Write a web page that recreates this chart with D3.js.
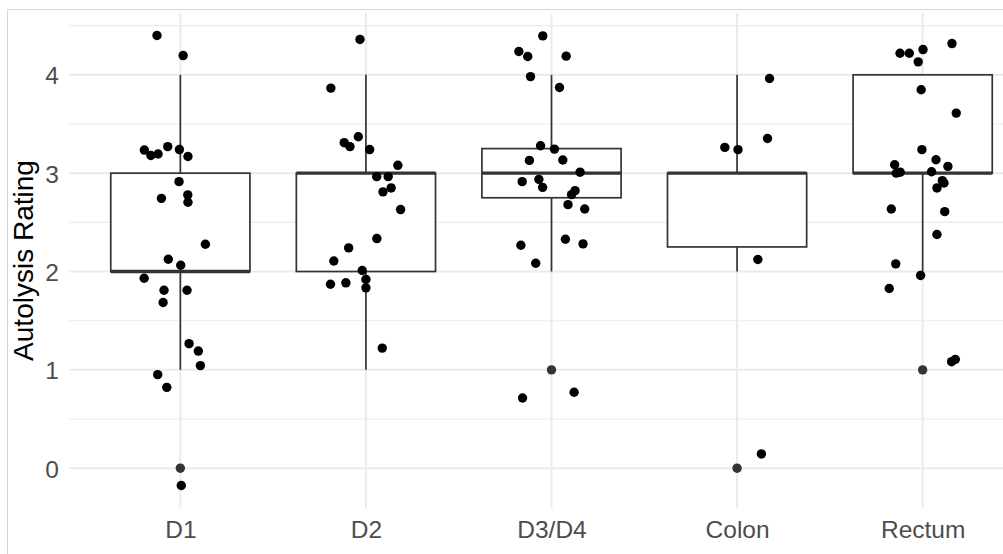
<!DOCTYPE html>
<html><head><meta charset="utf-8">
<script src="https://cdn.jsdelivr.net/npm/d3@7"></script>
<style>body{margin:0;background:#fff;overflow:hidden}svg{display:block}text{font-family:"Liberation Sans",Arial,sans-serif}</style>
</head><body>
<svg id="chart" width="1003" height="554"></svg>
<script>
// ---- data ----
const categories = ["D1", "D2", "D3/D4", "Colon", "Rectum"];
const yTicks = [0, 1, 2, 3, 4];
const boxQ1 = [2, 2, 2.75, 2.25, 3];
const boxMedian = [2, 3, 3, 3, 3];
const boxQ3 = [3, 3, 3.25, 3, 4];
const whiskerLow = [1, 1, 2, 2, 2];
const whiskerHigh = [4, 4, 4, 4, 4];
const outliers = [[0], [], [1], [0], [1]];
// jittered observations: [horizontal jitter (category units), rating]
const ptsD1 = [[-0.126,4.40],[0.015,4.196],[-0.194,3.235],[-0.159,3.18],[-0.120,3.195],[-0.068,3.27],[-0.005,3.24],[0.041,3.17],[-0.007,2.914],[-0.102,2.744],[0.040,2.779],[0.041,2.704],[0.135,2.277],[-0.065,2.125],[0.002,2.064],[-0.195,1.932],[-0.088,1.81],[0.036,1.81],[-0.093,1.685],[0.047,1.266],[0.097,1.191],[0.108,1.043],[-0.122,0.951],[-0.073,0.822],[0.005,-0.176]];
const ptsD2 = [[-0.032,4.36],[-0.189,3.865],[-0.117,3.31],[-0.086,3.27],[-0.041,3.37],[0.020,3.24],[0.172,3.08],[0.058,2.965],[0.120,2.965],[0.092,2.81],[0.136,2.85],[0.187,2.63],[0.059,2.335],[-0.093,2.24],[-0.173,2.107],[-0.020,2.01],[0.000,1.92],[0.000,1.834],[-0.108,1.885],[-0.191,1.87],[0.088,1.221]];
const ptsD3D4 = [[-0.047,4.396],[-0.176,4.237],[-0.128,4.186],[0.079,4.19],[-0.113,3.982],[0.043,3.871],[-0.059,3.279],[0.016,3.245],[-0.119,3.13],[0.061,3.134],[0.154,3.01],[-0.158,2.914],[-0.068,2.937],[-0.048,2.856],[0.127,2.822],[0.108,2.782],[0.089,2.68],[0.179,2.636],[0.075,2.328],[-0.165,2.267],[0.170,2.281],[-0.085,2.084],[-0.156,0.714],[0.122,0.772]];
const ptsColon = [[0.175,3.963],[0.164,3.353],[-0.066,3.262],[0.005,3.239],[0.112,2.122],[0.131,0.145]];
const ptsRectum = [[0.158,4.318],[-0.122,4.22],[-0.072,4.22],[0.002,4.257],[-0.024,4.132],[-0.008,3.848],[0.181,3.611],[-0.004,3.239],[0.072,3.137],[0.136,3.069],[-0.151,3.086],[-0.142,3.0],[-0.121,3.01],[0.048,3.015],[0.106,2.924],[0.115,2.9],[0.077,2.85],[-0.169,2.636],[0.119,2.609],[0.077,2.376],[-0.145,2.078],[-0.011,1.96],[-0.180,1.827],[0.156,1.083],[0.176,1.107]];
const points = [ptsD1, ptsD2, ptsD3D4, ptsColon, ptsRectum];
const yTitle = "Autolysis Rating";

// ---- layout ----
const svg = d3.select("#chart");
const panel = {left: 69, right: 1034, top: 13, bottom: 508};
const allY = points.flat().map(d => d[1]).concat(outliers.flat());
const yMin = d3.min(allY), yMax = d3.max(allY), pad = (yMax - yMin) * 0.05;
const y = d3.scaleLinear().domain([yMin - pad, yMax + pad]).range([panel.bottom, panel.top]);
const x = d3.scaleLinear().domain([0.4, categories.length + 0.6]).range([panel.left, panel.right]);
const xc = i => x(i + 1);

// frame
svg.append("rect").attr("x", 7.5).attr("y", 9.5).attr("width", 1100).attr("height", 700)
  .attr("fill", "none").attr("stroke", "#d6d6d6").attr("stroke-width", 1);

// grid
const g = svg.append("g");
const minor = d3.range(-0.5, 5, 1).filter(v => y(v) <= panel.bottom && y(v) >= panel.top);
g.selectAll(".minor").data(minor).join("line")
  .attr("x1", panel.left).attr("x2", panel.right).attr("y1", d => y(d)).attr("y2", d => y(d))
  .attr("stroke", "#ebebeb").attr("stroke-width", 1.1);
g.selectAll(".major").data(yTicks).join("line")
  .attr("x1", panel.left).attr("x2", panel.right).attr("y1", d => y(d)).attr("y2", d => y(d))
  .attr("stroke", "#ebebeb").attr("stroke-width", 2);
g.selectAll(".vmajor").data(categories).join("line")
  .attr("x1", (d, i) => xc(i)).attr("x2", (d, i) => xc(i)).attr("y1", panel.top).attr("y2", panel.bottom)
  .attr("stroke", "#ebebeb").attr("stroke-width", 2);

// axes
const yAxis = d3.axisLeft(y).tickValues(yTicks).tickSize(0).tickPadding(0).tickFormat(d3.format("d"));
const ya = svg.append("g").attr("transform", `translate(${panel.left - 10},0)`).call(yAxis);
ya.select(".domain").remove();
ya.selectAll("text").attr("fill", "#4d4d4d").attr("font-size", 24.5).attr("dy", "0.36em");
const xAxis = d3.axisBottom(x).tickValues(categories.map((d, i) => i + 1)).tickSize(0).tickPadding(0)
  .tickFormat((d, i) => categories[i]);
const xa = svg.append("g").attr("transform", `translate(0,${panel.bottom + 30})`).call(xAxis);
xa.select(".domain").remove();
xa.selectAll("text").attr("fill", "#4d4d4d").attr("font-size", 24.5).attr("dy", 0);

svg.append("text").attr("transform", `translate(33,${(panel.top + panel.bottom) / 2}) rotate(-90)`)
  .attr("text-anchor", "middle").attr("font-size", 28).attr("fill", "#000").text(yTitle);

// boxplots
const half = (x(1.375) - x(1));
const bx = svg.append("g");
categories.forEach((c, i) => {
  const cx = xc(i);
  bx.append("line").attr("x1", cx).attr("x2", cx).attr("y1", y(boxQ3[i])).attr("y2", y(whiskerHigh[i]))
    .attr("stroke", "#333").attr("stroke-width", 1.7);
  bx.append("line").attr("x1", cx).attr("x2", cx).attr("y1", y(boxQ1[i])).attr("y2", y(whiskerLow[i]))
    .attr("stroke", "#333").attr("stroke-width", 1.7);
  bx.append("rect").attr("x", cx - half).attr("width", 2 * half)
    .attr("y", y(boxQ3[i])).attr("height", y(boxQ1[i]) - y(boxQ3[i]))
    .attr("fill", "#fff").attr("stroke", "#333").attr("stroke-width", 1.7);
  bx.append("line").attr("x1", cx - half).attr("x2", cx + half).attr("y1", y(boxMedian[i])).attr("y2", y(boxMedian[i]))
    .attr("stroke", "#333").attr("stroke-width", 3.4);
  bx.selectAll(null).data(outliers[i]).join("circle")
    .attr("cx", cx).attr("cy", d => y(d)).attr("r", 4.7).attr("fill", "#333");
});

// jittered points
categories.forEach((c, i) => {
  svg.append("g").selectAll("circle").data(points[i]).join("circle")
    .attr("cx", d => x(i + 1 + d[0])).attr("cy", d => y(d[1])).attr("r", 4.7).attr("fill", "#000");
});
</script>
</body></html>
